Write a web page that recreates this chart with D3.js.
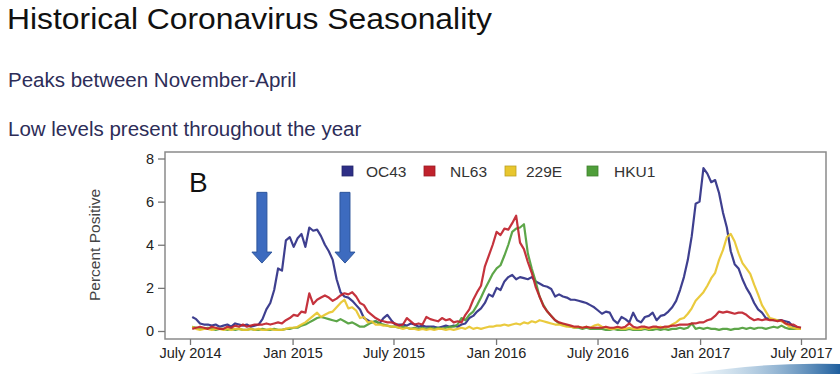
<!DOCTYPE html>
<html><head><meta charset="utf-8">
<script src="https://cdn.jsdelivr.net/npm/d3@7"></script>
<style>
html,body{margin:0;padding:0;background:#fff;}
svg{display:block;font-family:"Liberation Sans",Arial,sans-serif;}
</style></head>
<body>
<svg id="chart" width="840" height="374"></svg>
<script>
// ---- data ----
const startDate = "2014-07-05"; // first weekly observation
const seriesNames = ["OC43", "NL63", "229E", "HKU1"];
const seriesColors = ["#2e2f86", "#c0222c", "#e8c62e", "#4f9e3a"];
const OC43 = [0.65,0.55,0.35,0.3,0.3,0.25,0.3,0.2,0.25,0.3,0.2,0.35,0.3,0.25,0.3,0.2,0.25,0.3,0.55,1.0,
 1.3,1.9,2.9,2.8,4.2,4.35,3.9,4.3,4.5,3.9,4.8,4.65,4.7,4.4,4.0,3.7,3.3,2.4,1.8,1.6,
 1.55,1.4,1.2,1.0,0.6,0.5,0.4,0.45,0.35,0.6,0.75,0.5,0.3,0.3,0.3,0.25,0.35,0.3,0.2,0.25,
 0.2,0.2,0.2,0.15,0.2,0.25,0.2,0.25,0.2,0.3,0.35,0.6,0.7,0.9,1.05,1.3,1.7,1.6,2.0,1.9,
 2.3,2.5,2.6,2.4,2.5,2.45,2.4,2.5,2.3,2.2,2.1,2.05,1.95,1.6,1.7,1.6,1.55,1.45,1.45,1.4,
 1.35,1.3,1.2,1.1,0.95,0.8,0.9,0.85,0.5,0.35,0.65,0.55,0.4,0.85,0.5,0.4,0.65,0.7,0.85,0.5,
 0.7,0.75,0.9,1.1,1.4,1.9,2.5,3.3,4.4,5.9,6.0,7.55,7.3,6.9,7.0,6.4,5.5,4.8,3.7,3.1,
 2.9,2.4,2.0,1.7,1.3,1.0,0.85,0.6,0.55,0.5,0.5,0.5,0.45,0.4,0.2,0.15,0.15];
const NL63 = [0.1,0.15,0.2,0.15,0.1,0.2,0.15,0.1,0.1,0.2,0.15,0.25,0.2,0.3,0.2,0.25,0.3,0.3,0.3,0.35,
 0.3,0.35,0.4,0.35,0.5,0.6,0.75,0.7,0.9,0.85,1.75,1.25,1.45,1.55,1.65,1.55,1.4,1.5,1.65,1.75,
 1.7,1.8,1.6,1.3,1.2,0.9,0.75,0.6,0.5,0.45,0.4,0.4,0.35,0.25,0.3,0.6,0.45,0.3,0.35,0.3,
 0.65,0.55,0.5,0.45,0.6,0.5,0.55,0.4,0.45,0.4,0.75,1.0,1.45,1.8,2.1,3.0,3.5,4.0,4.6,4.45,
 4.75,4.7,5.0,5.35,4.1,3.8,3.2,2.7,2.05,1.6,1.15,0.9,0.7,0.5,0.4,0.35,0.3,0.25,0.2,0.2,
 0.15,0.2,0.15,0.15,0.15,0.15,0.2,0.15,0.15,0.2,0.15,0.2,0.35,0.2,0.15,0.2,0.2,0.15,0.2,0.2,
 0.15,0.2,0.2,0.25,0.25,0.3,0.3,0.3,0.35,0.35,0.4,0.4,0.5,0.55,0.7,0.9,0.85,0.9,0.85,0.8,
 0.85,0.85,0.75,0.6,0.5,0.55,0.5,0.55,0.5,0.5,0.45,0.5,0.35,0.3,0.3,0.2,0.15];
const E229 = [0.2,0.1,0.05,0.1,0.1,0.05,0.1,0.1,0.05,0.1,0.05,0.1,0.1,0.05,0.05,0.1,0.05,0.1,0.05,0.05,
 0.1,0.05,0.05,0.05,0.1,0.15,0.15,0.2,0.3,0.4,0.55,0.7,0.85,0.65,0.75,0.85,0.9,1.1,1.3,1.45,
 1.05,1.1,0.95,0.6,0.65,0.4,0.45,0.3,0.3,0.25,0.25,0.2,0.2,0.15,0.1,0.15,0.1,0.1,0.05,0.1,
 0.05,0.1,0.05,0.1,0.1,0.05,0.1,0.05,0.1,0.15,0.1,0.2,0.1,0.15,0.1,0.15,0.2,0.2,0.25,0.25,
 0.3,0.25,0.3,0.35,0.3,0.4,0.35,0.45,0.4,0.5,0.45,0.4,0.35,0.3,0.3,0.25,0.2,0.2,0.15,0.2,
 0.15,0.2,0.15,0.25,0.3,0.2,0.15,0.1,0.1,0.15,0.1,0.1,0.15,0.1,0.1,0.1,0.15,0.1,0.15,0.15,
 0.2,0.15,0.2,0.3,0.4,0.55,0.6,0.8,1.05,1.4,1.6,1.8,2.1,2.45,2.7,3.3,3.75,4.35,4.5,4.15,
 3.6,3.15,2.9,2.65,2.15,1.7,1.2,0.9,0.6,0.55,0.5,0.45,0.35,0.2,0.15,0.1,0.1];
const HKU1 = [0.2,0.15,0.1,0.1,0.15,0.1,0.05,0.1,0.1,0.05,0.1,0.05,0.1,0.05,0.05,0.1,0.05,0.05,0.1,0.05,
 0.05,0.1,0.05,0.05,0.1,0.1,0.15,0.15,0.25,0.3,0.4,0.5,0.6,0.65,0.6,0.55,0.5,0.45,0.55,0.45,
 0.35,0.4,0.3,0.2,0.2,0.3,0.4,0.45,0.35,0.3,0.25,0.2,0.2,0.15,0.2,0.15,0.1,0.15,0.1,0.15,
 0.1,0.15,0.1,0.15,0.1,0.15,0.2,0.2,0.3,0.6,0.5,0.75,0.9,1.2,1.55,1.95,2.3,2.65,2.9,3.05,
 3.5,4.0,4.6,4.75,4.8,4.95,3.6,2.9,2.3,1.6,1.2,0.9,0.7,0.5,0.35,0.3,0.25,0.2,0.15,0.15,
 0.1,0.15,0.1,0.1,0.1,0.1,0.05,0.05,0.1,0.05,0.05,0.05,0.1,0.05,0.05,0.05,0.1,0.05,0.05,0.1,
 0.05,0.1,0.05,0.1,0.1,0.15,0.1,0.15,0.35,0.1,0.15,0.1,0.15,0.1,0.1,0.05,0.1,0.1,0.05,0.1,
 0.1,0.15,0.1,0.15,0.1,0.15,0.15,0.1,0.15,0.2,0.15,0.25,0.15,0.1,0.1,0.1,0.1];
const seriesValues = [OC43, NL63, E229, HKU1];
const drawOrder = [0, 3, 2, 1];
const xTickDates = ["2014-07-01","2015-01-01","2015-07-01","2016-01-01","2016-07-01","2017-01-01","2017-07-01"];
const xTickLabels = ["July 2014","Jan 2015","July 2015","Jan 2016","July 2016","Jan 2017","July 2017"];
const yTicks = [0, 2, 4, 6, 8];
const arrowDates = ["2014-11-07", "2015-04-05"];
const arrowTop = 6.43, arrowTip = 3.15;

// ---- drawing ----
const svg = d3.select("#chart");
const parse = d3.utcParse("%Y-%m-%d");
const x = d3.scaleUtc().domain([parse("2014-07-01"), parse("2017-07-01")]).range([190, 801]);
const y = d3.scaleLinear().domain([0, 8]).range([331, 158.5]);
const box = {l:165, r:826, t:152, b:339};

// titles
svg.append("text").attr("x", 7).attr("y", 29).attr("font-size", 29.5).attr("fill", "#111")
  .attr("textLength", 485).attr("lengthAdjust", "spacingAndGlyphs")
  .text("Historical Coronavirus Seasonality");
svg.append("text").attr("x", 8).attr("y", 87).attr("font-size", 20.5).attr("fill", "#2d2d58")
  .text("Peaks between November-April");
svg.append("text").attr("x", 8).attr("y", 136).attr("font-size", 20.5).attr("fill", "#2d2d58")
  .text("Low levels present throughout the year");

// plot frame
svg.append("rect").attr("x", box.l).attr("y", box.t).attr("width", box.r - box.l).attr("height", box.b - box.t)
  .attr("fill", "none").attr("stroke", "#8a8a8a").attr("stroke-width", 1.5);

// axes
const xAxis = d3.axisBottom(x).tickValues(xTickDates.map(parse))
  .tickFormat((d, i) => xTickLabels[i]).tickSize(6).tickPadding(3);
const gx = svg.append("g").attr("transform", `translate(0,${box.b})`).call(xAxis);
gx.select(".domain").remove();
gx.selectAll("line").attr("stroke", "#777").attr("stroke-width", 1.3);
gx.selectAll("text").attr("font-size", 14.5).attr("fill", "#222")
  .attr("font-family", "'Liberation Sans',Arial,sans-serif");

const yAxis = d3.axisLeft(y).tickValues(yTicks).tickSize(7).tickPadding(4);
const gy = svg.append("g").attr("transform", `translate(${box.l},0)`).call(yAxis);
gy.select(".domain").remove();
gy.selectAll("line").attr("stroke", "#777").attr("stroke-width", 1.3);
gy.selectAll("text").attr("font-size", 14.5).attr("fill", "#222")
  .attr("font-family", "'Liberation Sans',Arial,sans-serif");

svg.append("text").attr("transform", "translate(100,245) rotate(-90)").attr("text-anchor", "middle")
  .attr("font-size", 15.5).attr("fill", "#444").text("Percent Positive");

// panel letter
svg.append("text").attr("x", 189).attr("y", 192).attr("font-size", 28).attr("fill", "#111").text("B");

// lines
const t0 = parse(startDate);
const line = d3.line().x((d, i) => x(d3.utcDay.offset(t0, 7 * i))).y(d => y(d));
drawOrder.forEach(k => {
  svg.append("path").datum(seriesValues[k]).attr("d", line).attr("fill", "none")
    .attr("stroke", seriesColors[k]).attr("stroke-width", 2.2).attr("stroke-linejoin", "round").attr("opacity", 0.92);
});

// legend
const legendSq = [342, 424, 505, 587];
const legendTx = [366, 450, 526, 614];
seriesNames.forEach((n, i) => {
  svg.append("rect").attr("x", legendSq[i]).attr("y", 166).attr("width", 11).attr("height", 10)
    .attr("fill", seriesColors[i]).attr("stroke", d3.color(seriesColors[i]).darker(0.6)).attr("stroke-width", 0.8);
  svg.append("text").attr("x", legendTx[i]).attr("y", 177).attr("font-size", 15.5).attr("fill", "#333").text(n);
});

// arrows
arrowDates.forEach(ds => {
  const cx = x(parse(ds)), top = y(arrowTop), tip = y(arrowTip), headY = tip - 11;
  const p = `M${cx-5},${top} L${cx+5},${top} L${cx+5},${headY} L${cx+10},${headY} L${cx},${tip} L${cx-10},${headY} L${cx-5},${headY} Z`;
  svg.append("path").attr("d", p).attr("fill", "#3d6bbf").attr("stroke", "#2d559c").attr("stroke-width", 1);
});

// decorative swoosh bottom right
const grad = svg.append("defs").append("linearGradient").attr("id", "sw").attr("x1", "0").attr("x2", "1");
grad.append("stop").attr("offset", "0").attr("stop-color", "#cfe6f2").attr("stop-opacity", 0.3);
grad.append("stop").attr("offset", "1").attr("stop-color", "#1f5f9e");
svg.append("path").attr("d", "M690,374 Q760,362 840,364 L840,374 Z").attr("fill", "url(#sw)");
</script>
</body></html>
